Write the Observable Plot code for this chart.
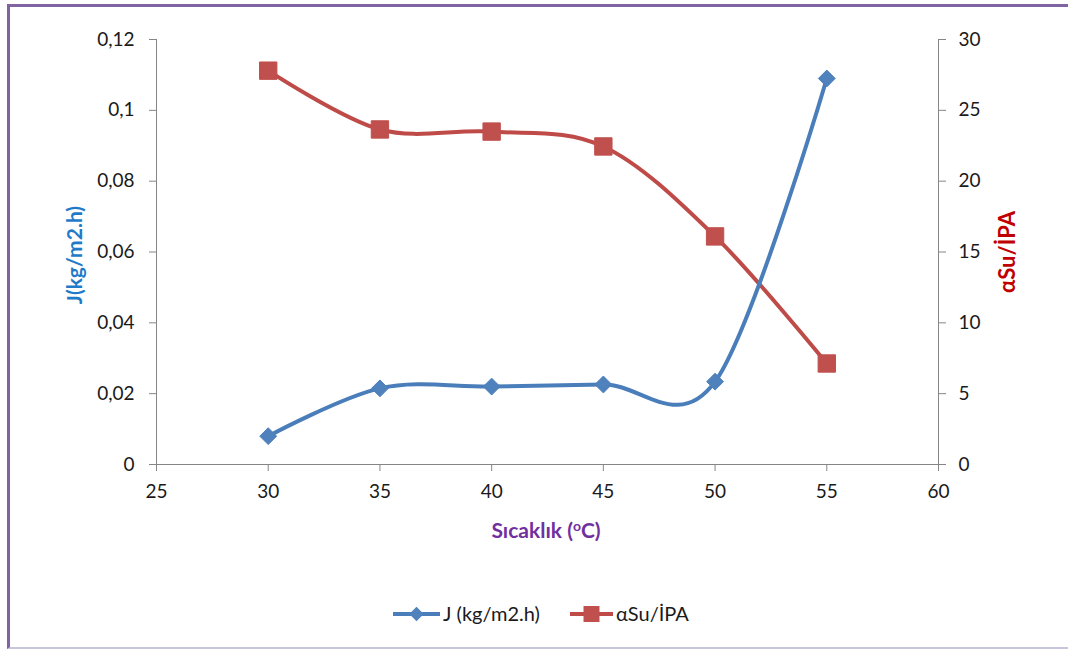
<!DOCTYPE html>
<html>
<head>
<meta charset="utf-8">
<script src="https://cdn.jsdelivr.net/npm/d3@7"></script>
<script src="https://cdn.jsdelivr.net/npm/@observablehq/plot@0.6"></script>
<style>
  body { margin: 0; background: #fff; }
  #chart { position: relative; width: 1068px; height: 650px; overflow: hidden; }
  #chart svg { position: absolute; left: 0; top: 0; }
  #frame {
    position: absolute; left: 7px; top: 4px; width: 1061px; height: 645px;
    border-top: 3px solid #8064a2; border-left: 3px solid #8064a2;
    border-bottom: 2px solid #c6c6dc; box-sizing: border-box;
  }
</style>
</head>
<body>
<div id="chart"><div id="frame"></div></div>
<script>
// Temperature (°C) and the two measured series
const temperature = [30, 35, 40, 45, 50, 55];
const flux = [0.008, 0.0215, 0.022, 0.0226, 0.0234, 0.109];        // J (kg/m2.h)
const selectivity = [27.8, 23.65, 23.5, 22.45, 16.1, 7.13];         // αSu/İPA

const xTicks = [25, 30, 35, 40, 45, 50, 55, 60];
const fluxTicks = [0, 0.02, 0.04, 0.06, 0.08, 0.1, 0.12];
const selectivityTicks = [0, 5, 10, 15, 20, 25, 30];
const seriesNames = ["J (kg/m2.h)", "αSu/İPA"];

const blueLine = "#4a7ebb", blueMark = "#4f81bd";
const redLine = "#be4b48", redMark = "#c0504d";
const axisGray = "#868686";

// secondary axis (0–30) shares the primary y scale (0–0.12)
const k = 0.12 / 30;
const rows = temperature.map((t, i) => ({t, j: flux[i], a: selectivity[i] * k}));
const comma = d => String(+d.toFixed(2)).replace(".", ",");

const plot = Plot.plot({
  width: 1068,
  height: 650,
  marginLeft: 156,
  marginRight: 130,
  marginTop: 39,
  marginBottom: 186,
  style: {fontFamily: "Lato, 'Open Sans', sans-serif", fontSize: "19px", color: "#1a1a1a", background: "transparent"},
  x: {domain: [25, 60]},
  y: {domain: [0, 0.12]},
  marks: [
    Plot.ruleX([25, 60], {stroke: axisGray}),
    Plot.ruleY([0], {stroke: axisGray}),
    Plot.axisX(xTicks, {tickSize: 7, tickPadding: 13, stroke: axisGray, fill: "#1a1a1a", label: null}),
    Plot.axisY(fluxTicks, {anchor: "left", tickSize: 7, tickPadding: 15, stroke: axisGray, fill: "#1a1a1a", tickFormat: comma, label: null}),
    Plot.axisY(selectivityTicks.map(v => v * k), {anchor: "right", tickSize: 7, tickPadding: 13, stroke: axisGray, fill: "#1a1a1a", tickFormat: d => Math.round(d / k), label: null}),
    Plot.line(rows, {x: "t", y: "a", stroke: redLine, strokeWidth: 4, curve: "catmull-rom", tension: 0}),
    Plot.line(rows, {x: "t", y: "j", stroke: blueLine, strokeWidth: 4, curve: "catmull-rom", tension: 0}),
    Plot.dot(rows, {x: "t", y: "a", symbol: "square", r: 9.8, fill: redMark, stroke: redMark, strokeWidth: 1}),
    Plot.dot(rows, {x: "t", y: "j", symbol: "diamond2", r: 7.6, fill: blueMark, stroke: blueMark, strokeWidth: 1})
  ]
});

document.getElementById("chart").appendChild(plot);

// axis titles and legend
const svg = d3.select(plot);
const font = "Lato, 'Open Sans', sans-serif";

svg.append("text")
  .attr("transform", "translate(82,255) rotate(-90)")
  .attr("text-anchor", "middle")
  .attr("font-family", font).attr("font-weight", "bold").attr("font-size", 21)
  .attr("fill", "#1f7bc8")
  .text("J(kg/m2.h)");

svg.append("text")
  .attr("transform", "translate(1015,252) rotate(-90)")
  .attr("text-anchor", "middle")
  .attr("font-family", font).attr("font-weight", "bold").attr("font-size", 22)
  .attr("fill", "#c00000")
  .text(seriesNames[1]);

const xt = svg.append("text")
  .attr("x", 546).attr("y", 538)
  .attr("text-anchor", "middle")
  .attr("font-family", font).attr("font-weight", "bold").attr("font-size", 21)
  .attr("fill", "#7030a0");
xt.append("tspan").text("Sıcaklık (");
xt.append("tspan").attr("font-size", 14).attr("dy", -7).text("o");
xt.append("tspan").attr("dy", 7).text("C)");

const legend = [
  {name: seriesNames[0], x0: 393, x1: 440, line: blueLine, fill: blueMark, symbol: d3.symbolDiamond2, size: 130},
  {name: seriesNames[1], x0: 570, x1: 613, line: redLine, fill: redMark, symbol: d3.symbolSquare, size: 256}
];
const ly = 614;
for (const item of legend) {
  svg.append("line")
    .attr("x1", item.x0).attr("x2", item.x1).attr("y1", ly).attr("y2", ly)
    .attr("stroke", item.line).attr("stroke-width", 4);
  svg.append("path")
    .attr("transform", `translate(${(item.x0 + item.x1) / 2},${ly})`)
    .attr("d", d3.symbol(item.symbol, item.size)())
    .attr("fill", item.fill);
  svg.append("text")
    .attr("x", item.x1 + 3).attr("y", ly + 7)
    .attr("text-anchor", "start")
    .attr("font-family", font).attr("font-size", 20)
    .attr("fill", "#1a1a1a")
    .text(item.name);
}
</script>
</body>
</html>
